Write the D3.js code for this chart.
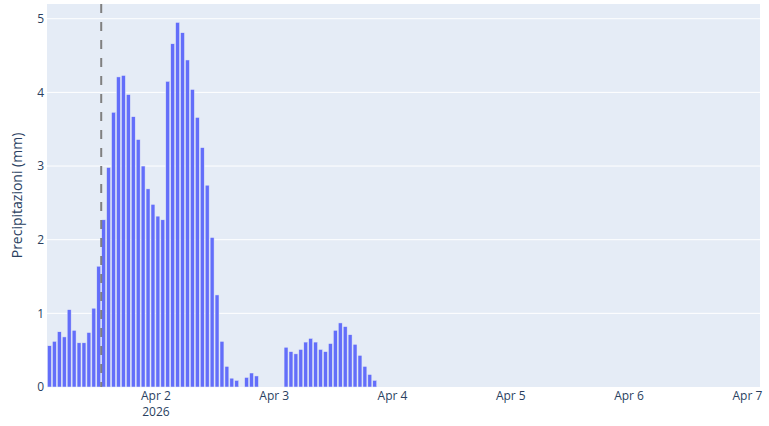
<!DOCTYPE html>
<html>
<head>
<meta charset="utf-8">
<script src="https://cdn.jsdelivr.net/npm/d3@7"></script>
<style>
  html, body { margin: 0; padding: 0; background: #fff; }
  svg { display: block; font-family: "Open Sans", "Noto Sans", sans-serif; }
</style>
</head>
<body>
<svg id="chart" width="769" height="426"></svg>
<script>
// ---- data ----
const seriesStart = new Date(2026, 3, 1, 2, 30); // first hourly bar (Apr 1 02:30)
const precip = [
  0.56, 0.62, 0.75, 0.68, 1.05, 0.77, 0.60, 0.60, 0.74, 1.07,
  1.64, 2.27, 2.98, 3.73, 4.21, 4.23, 3.97, 3.67, 3.36, 3.00,
  2.69, 2.48, 2.32, 2.27, 4.15, 4.66, 4.95, 4.81, 4.44, 4.04,
  3.66, 3.25, 2.74, 2.03, 1.25, 0.62, 0.28, 0.12, 0.09, 0.00,
  0.13, 0.19, 0.15, 0.00, 0.00, 0.00, 0.00, 0.00, 0.54, 0.48,
  0.45, 0.51, 0.61, 0.66, 0.61, 0.51, 0.48, 0.59, 0.77, 0.87,
  0.82, 0.71, 0.58, 0.43, 0.28, 0.17, 0.09, 0.00, 0.00, 0.00,
  0.00, 0.00, 0.00, 0.00, 0.00, 0.00, 0.00, 0.00, 0.00, 0.00,
  0.00, 0.00, 0.00, 0.00, 0.00, 0.00, 0.00, 0.00, 0.00, 0.00,
  0.00, 0.00, 0.00, 0.00, 0.00, 0.00, 0.00, 0.00, 0.00, 0.00,
  0.00, 0.00, 0.00, 0.00, 0.00, 0.00, 0.00, 0.00, 0.00, 0.00,
  0.00, 0.00, 0.00, 0.00, 0.00, 0.00, 0.00, 0.00, 0.00, 0.00,
  0.00, 0.00, 0.00, 0.00, 0.00, 0.00, 0.00, 0.00, 0.00, 0.00,
  0.00, 0.00, 0.00, 0.00, 0.00, 0.00, 0.00, 0.00, 0.00, 0.00,
  0.00, 0.00, 0.00, 0.00
];
const xDomain = [new Date(2026, 3, 1, 2, 0), new Date(2026, 3, 7, 2, 40)];
const nowTime = new Date(2026, 3, 1, 13, 0);
const xTickDates = [
  new Date(2026, 3, 2), new Date(2026, 3, 3), new Date(2026, 3, 4),
  new Date(2026, 3, 5), new Date(2026, 3, 6), new Date(2026, 3, 7)
];
const yTicks = [0, 1, 2, 3, 4, 5];
const yDomain = [0, 5.2];
const yTitle = "Precipitazioni (mm)";

// ---- layout ----
const W = 769, H = 426;
const m = { left: 47, right: 9, top: 4, bottom: 39 };
const pw = W - m.left - m.right, ph = H - m.top - m.bottom;
const textColor = "#2a3f5f";

const svg = d3.select("#chart");
const g = svg.append("g").attr("transform", `translate(${m.left},${m.top})`);

const x = d3.scaleTime().domain(xDomain).range([0, pw]);
const y = d3.scaleLinear().domain(yDomain).range([ph, 0]);

const data = precip.map((v, i) => ({ t: d3.timeHour.offset(seriesStart, i), v }));

g.append("rect").attr("width", pw).attr("height", ph).attr("fill", "#E5ECF6");

// grid
g.append("g").selectAll("line").data(yTicks.filter(d => d > 0)).join("line")
  .attr("x1", 0).attr("x2", pw)
  .attr("y1", d => y(d)).attr("y2", d => y(d))
  .attr("stroke", "#fff").attr("stroke-width", 1);

// bars
const hourPx = x(d3.timeHour.offset(seriesStart, 1)) - x(seriesStart);
const bw = hourPx * 0.8;
g.append("g").selectAll("rect").data(data.filter(d => d.v > 0)).join("rect")
  .attr("x", d => x(d.t) - bw / 2)
  .attr("width", bw)
  .attr("y", d => y(d.v))
  .attr("height", d => y(0) - y(d.v))
  .attr("fill", "#636efa")
  .attr("stroke", "#E5ECF6")
  .attr("stroke-width", 0.5);

// now line
g.append("line")
  .attr("x1", x(nowTime)).attr("x2", x(nowTime))
  .attr("y1", 0).attr("y2", ph)
  .attr("stroke", "#808080").attr("stroke-width", 2)
  .attr("stroke-dasharray", "9,9");

// y axis
const yAxis = d3.axisLeft(y).tickValues(yTicks).tickSize(0).tickPadding(3).tickFormat(d3.format("d"));
const ya = g.append("g").call(yAxis);
ya.select(".domain").remove();
ya.selectAll("text").attr("fill", textColor).attr("font-size", 12)
  .attr("font-family", "'Open Sans', sans-serif");

// x axis
const fmt = d3.timeFormat("%b %-d");
const xAxis = d3.axisBottom(x).tickValues(xTickDates).tickSize(0).tickPadding(0).tickFormat(() => "");
const xa = g.append("g").attr("transform", `translate(0,${ph})`).call(xAxis);
xa.select(".domain").remove();
xa.selectAll(".tick").each(function(d, i) {
  const t = d3.select(this).select("text")
    .attr("fill", textColor).attr("font-size", 12)
    .attr("font-family", "'Open Sans', sans-serif")
    .attr("y", 12.5).attr("dy", null);
  t.append("tspan").attr("x", 0).text(fmt(d));
  if (i === 0) t.append("tspan").attr("x", 0).attr("dy", 16).text(d3.timeFormat("%Y")(d));
});

// y title
svg.append("text")
  .attr("transform", `translate(22,${m.top + ph / 2}) rotate(-90)`)
  .attr("text-anchor", "middle")
  .attr("fill", textColor).attr("font-size", 14)
  .attr("font-family", "'Open Sans', sans-serif")
  .text(yTitle);
</script>
</body>
</html>
